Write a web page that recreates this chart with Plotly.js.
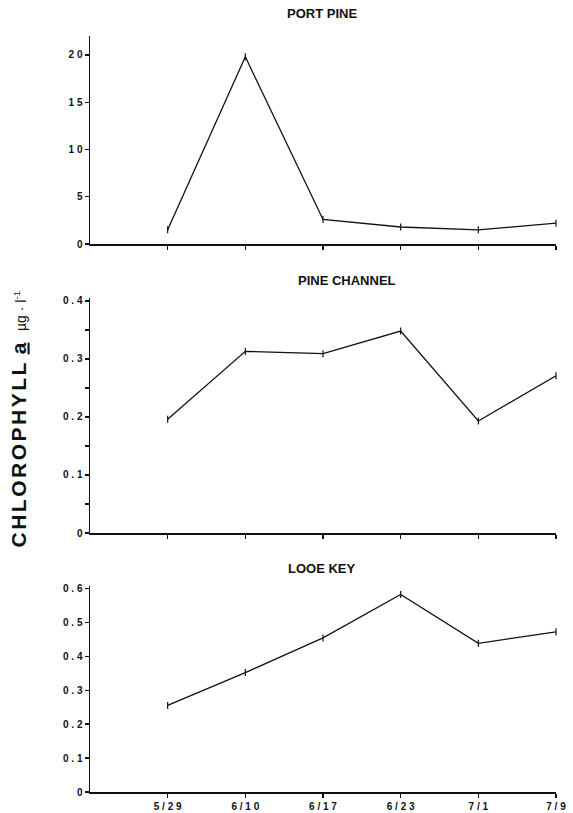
<!DOCTYPE html>
<html>
<head>
<meta charset="utf-8">
<script src="https://cdn.plot.ly/plotly-3.0.1.min.js"></script>
<style>
  html, body { margin: 0; padding: 0; background: #fff; }
  #chart { width: 573px; height: 813px; }
</style>
</head>
<body>
<div id="chart"></div>
<script>
// ---- Data ----
const dates = ["5/29", "6/10", "6/17", "6/23", "7/1", "7/9"];
const portPine = [1.5, 19.8, 2.6, 1.8, 1.5, 2.2];
const pineChannel = [0.196, 0.313, 0.309, 0.348, 0.193, 0.271];
const looeKey = [0.255, 0.352, 0.454, 0.582, 0.438, 0.472];

const portPineTicks = [0, 5, 10, 15, 20];
const pineChannelTicks = [0, 0.1, 0.2, 0.3, 0.4];
const looeKeyTicks = [0, 0.1, 0.2, 0.3, 0.4, 0.5, 0.6];

const panelTitles = ["PORT PINE", "PINE CHANNEL", "LOOE KEY"];

// ---- helpers ----
const spaced = s => String(s).split('').join(' ');
const FONT = 'Liberation Sans, Arial, sans-serif';
const tickFont = {family: FONT, size: 10, color: '#111', weight: 'bold'};
const INK = '#111';

function series(y, xa, ya) {
  return {
    x: dates, y: y, xaxis: xa, yaxis: ya,
    type: 'scatter', mode: 'lines+markers',
    line: {color: INK, width: 1.3},
    marker: {symbol: 'line-ns-open', size: 5, line: {color: INK, width: 1.2}},
    hoverinfo: 'x+y', cliponaxis: false
  };
}

const traces = [
  series(portPine, 'x', 'y'),
  series(pineChannel, 'x2', 'y2'),
  series(looeKey, 'x3', 'y3')
];

const dateIdx = dates.map((d, i) => i);

function xAxis(anchor, showLabels) {
  return {
    anchor: anchor, domain: [0, 1],
    type: 'category', categoryorder: 'array', categoryarray: dates,
    range: [-1, 5],
    tickmode: 'array', tickvals: dates, ticktext: dates.map(spaced),
    showticklabels: showLabels,
    ticks: 'outside', ticklen: 4, tickwidth: 1.3, tickcolor: INK,
    showline: true, linecolor: INK, linewidth: 1.5,
    showgrid: false, zeroline: false, fixedrange: true,
    tickfont: tickFont
  };
}
// overlay axis giving the inner half of the crossing tick marks
function xAxisInner(anchor, over) {
  return {
    anchor: anchor, overlaying: over, domain: [0, 1],
    type: 'linear', range: [-1, 5],
    tickmode: 'array', tickvals: dateIdx,
    showticklabels: false,
    ticks: 'inside', ticklen: 3, tickwidth: 1.3, tickcolor: INK,
    showline: false, showgrid: false, zeroline: false, fixedrange: true
  };
}
function yAxis(anchor, domain, range, ticks, minor) {
  const ax = {
    anchor: anchor, domain: domain, range: range,
    tickmode: 'array', tickvals: ticks, ticktext: ticks.map(spaced),
    ticks: 'outside', ticklen: 4, tickwidth: 1.3, tickcolor: INK,
    showline: true, linecolor: INK, linewidth: 1.5,
    showgrid: false, zeroline: false, fixedrange: true,
    tickfont: tickFont
  };
  if (minor) ax.minor = {dtick: minor, ticks: 'outside', ticklen: 4, tickwidth: 1.3, tickcolor: INK, showgrid: false};
  return ax;
}
function yAxisInner(anchor, over, domain, range, ticks, minor) {
  const ax = {
    anchor: anchor, overlaying: over, domain: domain, range: range,
    tickmode: 'array', tickvals: ticks, showticklabels: false,
    ticks: 'inside', ticklen: 3, tickwidth: 1.3, tickcolor: INK,
    showline: false, showgrid: false, zeroline: false, fixedrange: true
  };
  if (minor) ax.minor = {dtick: minor, ticks: 'inside', ticklen: 3, tickwidth: 1.3, tickcolor: INK, showgrid: false};
  return ax;
}

const H = 813, PW = 466, L = 90;
const dom = (top, bottom) => [1 - bottom / H, 1 - top / H];
const d1 = dom(36, 244), d2 = dom(298, 533), d3 = dom(586, 792);
const r1 = [0, 22], r2 = [0, 0.405], r3 = [0, 0.607];

const titleFont = {family: FONT, size: 13, color: INK, weight: 'bold'};

const layout = {
  width: 573, height: 813,
  margin: {l: L, r: 17, t: 0, b: 0},
  paper_bgcolor: '#fff', plot_bgcolor: '#fff',
  showlegend: false,
  xaxis: xAxis('y', false),
  yaxis: yAxis('x', d1, r1, portPineTicks),
  xaxis2: xAxis('y2', false),
  yaxis2: yAxis('x2', d2, r2, pineChannelTicks, 0.05),
  xaxis3: xAxis('y3', true),
  yaxis3: yAxis('x3', d3, r3, looeKeyTicks),
  xaxis4: xAxisInner('y', 'x'),
  xaxis5: xAxisInner('y2', 'x2'),
  xaxis6: xAxisInner('y3', 'x3'),
  yaxis4: yAxisInner('x', 'y', d1, r1, portPineTicks),
  yaxis5: yAxisInner('x2', 'y2', d2, r2, pineChannelTicks, 0.05),
  yaxis6: yAxisInner('x3', 'y3', d3, r3, looeKeyTicks),
  annotations: [
    {text: panelTitles[0], xref: 'paper', yref: 'paper', x: (322 - L) / PW, y: 1 - 14 / H, xanchor: 'center', yanchor: 'middle', showarrow: false, font: titleFont},
    {text: panelTitles[1], xref: 'paper', yref: 'paper', x: (347 - L) / PW, y: 1 - 280 / H, xanchor: 'center', yanchor: 'middle', showarrow: false, font: titleFont},
    {text: panelTitles[2], xref: 'paper', yref: 'paper', x: (322 - L) / PW, y: 1 - 568 / H, xanchor: 'center', yanchor: 'middle', showarrow: false, font: titleFont},
    {text: '<span style="letter-spacing:2.5px">CHLOROPHYLL</span> <u>a</u>  <span style="font-size:14px;font-weight:normal">µg · l<sup>-1</sup></span>',
     xref: 'paper', yref: 'paper', x: (18 - L) / PW, y: 1 - 550 / H,
     xanchor: 'center', yanchor: 'bottom', textangle: -90, showarrow: false,
     font: {family: FONT, size: 21, color: INK, weight: 'bold'}}
  ]
};

Plotly.newPlot('chart', traces, layout, {staticPlot: true, displayModeBar: false});
</script>
</body>
</html>
